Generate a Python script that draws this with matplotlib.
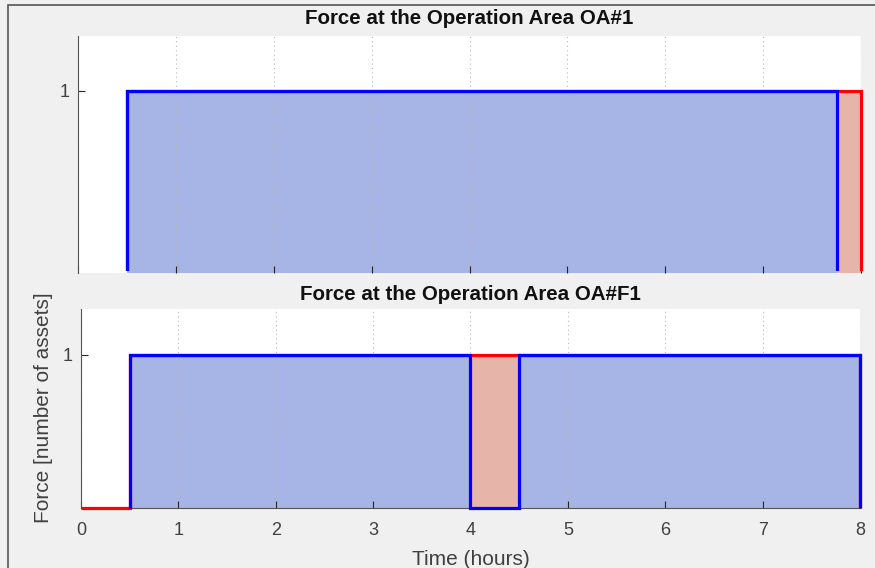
import matplotlib.pyplot as plt
from matplotlib.patches import Rectangle

plt.rcParams['font.family'] = ['Liberation Sans', 'DejaVu Sans']

# Operation Area OA#1
oa1_req_edges = [0, 0.5, 8]
oa1_req = [0, 1]
oa1_asg_edges = [0.5, 7.75]
oa1_asg = [1]

# Operation Area OA#F1
oaf1_req_edges = [0, 0.5, 8]
oaf1_req = [0, 1]
oaf1_asg_edges = [0.5, 4, 4.5, 8]
oaf1_asg = [1, 0, 1]

titles = ['Force at the Operation Area OA#1', 'Force at the Operation Area OA#F1']
xticks = [0, 1, 2, 3, 4, 5, 6, 7, 8]

bg = '#f0f0f0'
axcol = '#262626'
blue_fill = '#a6b4e6'
red_fill = '#e6b4a8'

fig = plt.figure(figsize=(8.75, 5.68), dpi=100, facecolor=bg)
# window frame
fig.patches.append(Rectangle((8 / 875, -0.1), 1.2, (568 - 5) / 568 + 0.1,
                             transform=fig.transFigure, facecolor='none',
                             edgecolor='#555555', linewidth=1.2))

ax1 = fig.add_axes([78 / 875, (568 - 273) / 568, 783 / 875, 237 / 568])
ax2 = fig.add_axes([81 / 875, 60 / 568, 779 / 875, 199 / 568])


def draw(ax, req_e, req, asg_e, asg, title, pad, ymin_clip):
    ax.stairs(req, req_e, fill=True, color=red_fill, linewidth=0, zorder=1)
    ax.stairs(asg, asg_e, fill=True, color=blue_fill, linewidth=0, zorder=1)
    r = ax.stairs(req, req_e, color='#ff0000', linewidth=2.3, zorder=3)
    b = ax.stairs(asg, asg_e, color='#0000ff', linewidth=2.3, zorder=4)
    # let the outlines spill past the right/bottom edges, but not below ymin_clip
    clip = Rectangle((-1, ymin_clip), 10, 3, transform=ax.transData)
    for p in (r, b):
        p.set_clip_path(clip)
    ax.set_xlim(0, 8)
    ax.set_ylim(0, 1.3)
    ax.set_xticks(xticks)
    ax.set_yticks([1])
    ax.grid(True, axis='x', linestyle=(0, (1, 3)), color='#b8b8b8', linewidth=0.8)
    ax.tick_params(direction='in', length=5, color=axcol, labelcolor='#404040',
                   labelsize=13, width=0.8)
    ax.tick_params(axis='x', pad=10)
    ax.tick_params(axis='y', pad=6)
    for s in ['top', 'right']:
        ax.spines[s].set_visible(False)
    for s in ['left', 'bottom']:
        ax.spines[s].set_color('#555555')
        ax.spines[s].set_linewidth(0.8)
    ax.set_title(title, fontsize=14.8, fontweight='bold', color='#111111', pad=pad)


draw(ax1, oa1_req_edges, oa1_req, oa1_asg_edges, oa1_asg, titles[0], 8.5, 0.01)
draw(ax2, oaf1_req_edges, oaf1_req, oaf1_asg_edges, oaf1_asg, titles[1], 6.5, -0.1)

ax1.tick_params(labelbottom=False)
ax1.spines['bottom'].set_visible(False)

ax2.set_xlabel('Time (hours)', fontsize=15, color='#404040', labelpad=8)
fig.text(44 / 875, 1 - 408 / 568, 'Force [number of assets]', rotation=90,
         fontsize=15, color='#404040', ha='center', va='center')

fig.savefig('out.png', dpi=100, facecolor=bg)
